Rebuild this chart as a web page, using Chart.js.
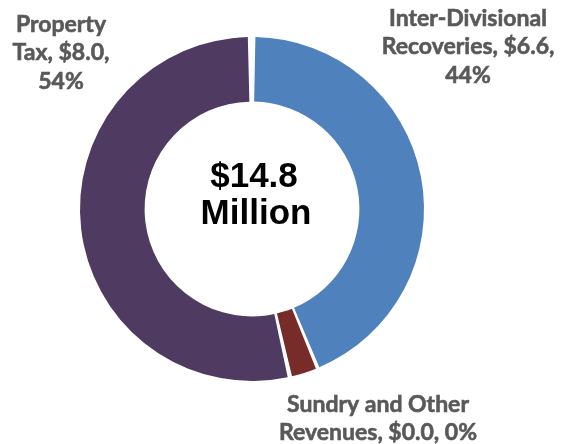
<!DOCTYPE html>
<html>
<head>
<meta charset="utf-8">
<script src="https://cdn.jsdelivr.net/npm/chart.js@4.4.1/dist/chart.umd.min.js"></script>
<style>
  html, body { margin: 0; padding: 0; background: #ffffff; }
  #wrap { width: 566px; height: 444px; }
</style>
</head>
<body>
<div id="wrap"><canvas id="c" width="566" height="444"></canvas></div>
<script>
// ---- data ----
const categories = ['Inter-Divisional Recoveries', 'Sundry and Other Revenues', 'Property Tax'];
const values = [6.5, 0.35, 7.95];           // $ millions (slice sizes as drawn)
const amountLabels = ['$6.6', '$0.0', '$8.0'];
const percentLabels = ['44%', '0%', '54%'];
const labelLines = [
  ['Inter-Divisional', 'Recoveries, $6.6,', '44%'],
  ['Sundry and Other', 'Revenues, $0.0, 0%'],
  ['Property', 'Tax, $8.0,', '54%']
];
const centerText = ['$14.8', 'Million'];

// ---- styles ----
const colors = ['#4F81BD', '#772C2A', '#4F3B62'];
const labelOffsets = [ {dx: 216, dy: -183}, {dx: 126, dy: 203}, {dx: -191, dy: -177} ];
const labelLineHeight = 28.3;

const labelPlugin = {
  id: 'labels',
  afterDraw(chart) {
    const ctx = chart.ctx;
    const meta = chart.getDatasetMeta(0);
    ctx.save();
    ctx.textAlign = 'center';
    ctx.textBaseline = 'alphabetic';
    meta.data.forEach((arc, i) => {
      const off = labelOffsets[i];
      ctx.fillStyle = '#595959';
      ctx.strokeStyle = '#595959';
      ctx.lineWidth = 0.6;
      ctx.font = 'bold 23px Lato';
      labelLines[i].forEach((line, k) => {
        const x = arc.x + off.dx, y = arc.y + off.dy + k * labelLineHeight;
        ctx.fillText(line, x, y);
        ctx.strokeText(line, x, y);
      });
    });
    const a0 = meta.data[0];
    ctx.fillStyle = '#000000';
    ctx.font = 'bold 35px "Liberation Sans", Arial, sans-serif';
    ctx.fillText(centerText[0], a0.x + 2, a0.y - 22);
    ctx.fillText(centerText[1], a0.x + 4, a0.y + 15);
    ctx.restore();
  }
};

new Chart(document.getElementById('c'), {
  type: 'doughnut',
  data: {
    labels: categories,
    datasets: [{
      data: values,
      backgroundColor: colors,
      borderWidth: 0,
      spacing: 4,
      hoverOffset: 0
    }]
  },
  options: {
    responsive: false,
    animation: false,
    cutout: '62%',
    rotation: 0,
    layout: { padding: { top: 37, bottom: 63, left: 0, right: 62 } },
    plugins: {
      legend: { display: false },
      tooltip: { enabled: false }
    }
  },
  plugins: [labelPlugin]
});
</script>
</body>
</html>
